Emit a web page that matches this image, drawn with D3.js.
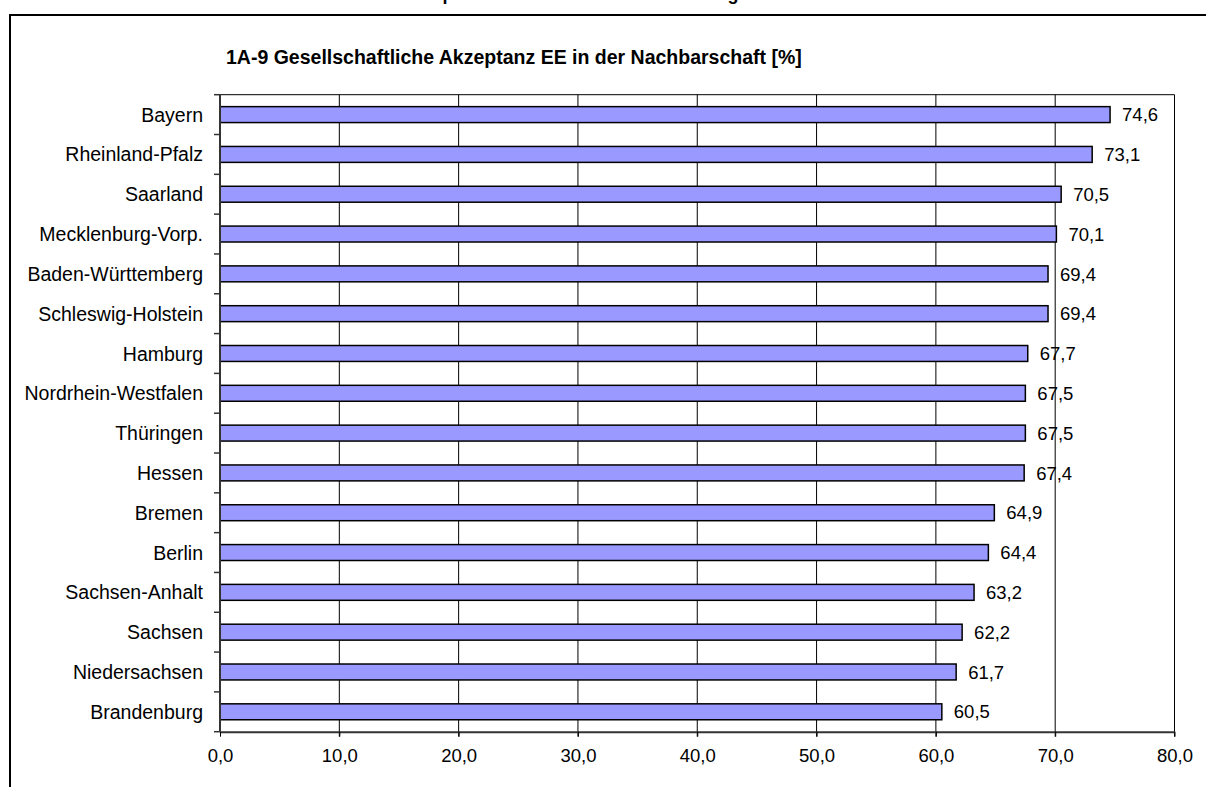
<!DOCTYPE html>
<html><head><meta charset="utf-8">
<script src="https://cdn.jsdelivr.net/npm/d3@7"></script>
<style>body{margin:0;background:#fff;}svg{display:block;font-family:Arial,"Liberation Sans",sans-serif;}</style>
</head><body>
<svg id="c" width="1206" height="787"></svg>
<script>
const categories = ["Bayern","Rheinland-Pfalz","Saarland","Mecklenburg-Vorp.","Baden-Württemberg","Schleswig-Holstein","Hamburg","Nordrhein-Westfalen","Thüringen","Hessen","Bremen","Berlin","Sachsen-Anhalt","Sachsen","Niedersachsen","Brandenburg"];
const values = [74.6,73.1,70.5,70.1,69.4,69.4,67.7,67.5,67.5,67.4,64.9,64.4,63.2,62.2,61.7,60.5];
const xTicks = [0,10,20,30,40,50,60,70,80];
const chartTitle = "1A-9 Gesellschaftliche Akzeptanz EE in der Nachbarschaft [%]";

const svg = d3.select("#c");
const fmt = v => v.toFixed(1).replace(".", ",");

// cropped page title remnants (descenders only visible)
svg.append("text").attr("x",448).attr("y",0).attr("text-anchor","middle")
  .attr("font-size",18).attr("font-weight","bold").text("p");
svg.append("text").attr("x",733).attr("y",0).attr("text-anchor","middle")
  .attr("font-size",18).attr("font-weight","bold").text("g");

// outer frame
svg.append("rect").attr("x",10).attr("y",15).attr("width",1250).attr("height",850)
  .attr("fill","none").attr("stroke","#000").attr("stroke-width",2);

const m = {left:220, right:1174.5, top:94.7, bottom:731.7};
const x = d3.scaleLinear().domain([0,80]).range([m.left,m.right]);
const y = d3.scaleBand().domain(categories).range([m.top,m.bottom]).paddingInner(0.6).paddingOuter(0.3);
const yb = d3.scaleBand().domain(categories).range([m.top,m.bottom]);

svg.append("text").attr("x",226).attr("y",64).attr("font-size",19.5).attr("font-weight","bold")
  .text(chartTitle);

// top border
svg.append("line").attr("x1",m.left).attr("x2",m.right).attr("y1",m.top).attr("y2",m.top)
  .attr("stroke","#000").attr("stroke-width",1);

// gridlines
svg.append("g").selectAll("line").data(xTicks.slice(1)).join("line")
  .attr("x1",d=>x(d)).attr("x2",d=>x(d)).attr("y1",m.top).attr("y2",m.bottom+5)
  .attr("stroke","#000").attr("stroke-width",1);

// bars
svg.append("g").selectAll("rect").data(values).join("rect")
  .attr("x",x(0)).attr("y",(d,i)=>y(categories[i]))
  .attr("width",d=>x(d)-x(0)).attr("height",y.bandwidth())
  .attr("fill","#9999ff").attr("stroke","#000").attr("stroke-width",1.5);

// value labels
svg.append("g").selectAll("text").data(values).join("text")
  .attr("x",d=>x(d)+12).attr("y",(d,i)=>y(categories[i])+y.bandwidth()/2)
  .attr("dy","0.36em").attr("font-size",18.5).text(d=>fmt(d));

// x axis
const xAxis = d3.axisBottom(x).tickValues(xTicks).tickFormat(fmt).tickSize(5).tickSizeOuter(0);
const gx = svg.append("g").attr("transform",`translate(0,${m.bottom})`).call(xAxis);
gx.select(".domain").attr("stroke","#333").attr("stroke-width",2);
gx.selectAll(".tick line").attr("stroke","#000");
gx.selectAll("text").attr("font-size",18.5).attr("fill","#000").attr("font-family","Arial,'Liberation Sans',sans-serif").attr("dy","1.2em");

// y axis
const gy = svg.append("g").attr("transform",`translate(${m.left},0)`);
gy.append("line").attr("x1",0).attr("x2",0).attr("y1",m.top).attr("y2",m.bottom).attr("stroke","#333").attr("stroke-width",2);
gy.selectAll("line.t").data(d3.range(categories.length+1)).join("line").attr("class","t")
  .attr("x1",-6).attr("x2",0).attr("y1",i=>m.top+i*yb.step()).attr("y2",i=>m.top+i*yb.step())
  .attr("stroke","#333").attr("stroke-width",1.5);
gy.selectAll("text").data(categories).join("text")
  .attr("x",-17).attr("y",d=>yb(d)+yb.bandwidth()/2).attr("dy","0.36em")
  .attr("text-anchor","end").attr("font-size",19.5).text(d=>d);
</script>
</body></html>
